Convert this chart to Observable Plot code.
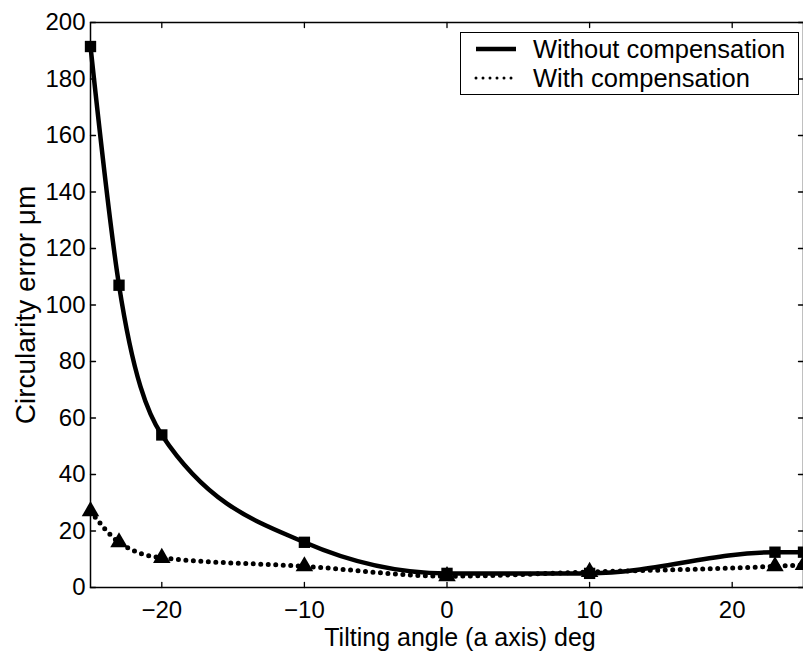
<!DOCTYPE html>
<html>
<head>
<meta charset="utf-8">
<script src="https://cdn.jsdelivr.net/npm/d3@7"></script>
<script src="https://cdn.jsdelivr.net/npm/@observablehq/plot@0.6"></script>
<style>
  html, body { margin: 0; padding: 0; background: #fff; }
  #wrap { position: relative; width: 803px; height: 653px; overflow: hidden; font-family: "Liberation Sans", Arial, Helvetica, sans-serif; }
  #legend { position: absolute; left: 460px; top: 32px; width: 337px; height: 61px; border: 1.5px solid #000; background: #fff; }
  .row { position: absolute; left: 0; height: 28px; display: flex; align-items: center; font-size: 25.5px; color: #000; white-space: nowrap; }
  .row svg { margin-left: 13px; margin-right: 15px; }
</style>
</head>
<body>
<div id="wrap"></div>
<script>
const angles = [-25, -23, -20, -10, 0, 10, 23, 25];
const withoutComp = [191.5, 107, 54, 16, 5, 5, 12.5, 12.5];
const withComp = [27, 16, 10.5, 7.5, 4, 5.5, 7.5, 8];
const seriesNames = ["Without compensation", "With compensation"];
const xTicks = [-20, -10, 0, 10, 20];
const yTicks = [0, 20, 40, 60, 80, 100, 120, 140, 160, 180, 200];
const xLabel = "Tilting angle (a axis) deg";
const yLabel = "Circularity error μm";

const rowsWithout = angles.map((a, i) => ({angle: a, value: withoutComp[i]}));
const rowsWith = angles.map((a, i) => ({angle: a, value: withComp[i]}));

// inward tick shape for vector marks
const tickShape = {draw(context, l) { context.moveTo(0, 0); context.lineTo(0, -l); }};
const tickOpts = {length: 5, anchor: "start", shape: tickShape, stroke: "#000", strokeWidth: 1.3};

const chart = Plot.plot({
  width: 803,
  height: 653,
  marginLeft: 90,
  marginRight: 0,
  marginTop: 22,
  marginBottom: 66,
  style: {fontFamily: "Liberation Sans, Arial, Helvetica, sans-serif", fontSize: "24px", color: "#000", background: "#fff", overflow: "visible"},
  x: {domain: [-25, 25]},
  y: {domain: [0, 200]},
  marks: [
    Plot.line(rowsWith, {x: "angle", y: "value", curve: "monotone-x", stroke: "#000", strokeWidth: 5, strokeDasharray: "0 7.5", strokeLinecap: "round"}),
    Plot.line(rowsWithout, {x: "angle", y: "value", curve: "monotone-x", stroke: "#000", strokeWidth: 4.5}),
    Plot.dot(rowsWith, {x: "angle", y: "value", symbol: "triangle", r: 6.5, fill: "#000"}),
    Plot.dot(rowsWithout, {x: "angle", y: "value", symbol: "square", r: 6.4, fill: "#000"}),
    Plot.frame({stroke: "#000", strokeWidth: 1.5}),
    Plot.vector(xTicks, {x: d => d, frameAnchor: "bottom", rotate: 0, ...tickOpts}),
    Plot.vector(xTicks, {x: d => d, frameAnchor: "top", rotate: 180, ...tickOpts}),
    Plot.vector(yTicks, {y: d => d, frameAnchor: "left", rotate: 90, ...tickOpts}),
    Plot.vector(yTicks, {y: d => d, frameAnchor: "right", rotate: -90, ...tickOpts}),
    Plot.axisX({anchor: "bottom", ticks: xTicks, tickSize: 0, tickPadding: 13, label: null, fontSize: 24}),
    Plot.axisY({anchor: "left", ticks: yTicks, tickSize: 0, tickPadding: 5, label: null, fontSize: 24}),
    Plot.text([xLabel], {frameAnchor: "bottom", dx: 13, dy: 50, lineAnchor: "middle", textAnchor: "middle", fontSize: 25, text: d => d}),
    Plot.text([yLabel], {frameAnchor: "left", dx: -64, rotate: -90, lineAnchor: "middle", textAnchor: "middle", fontSize: 28, text: d => d})
  ]
});

const wrap = document.getElementById("wrap");
wrap.appendChild(chart);

const legend = document.createElement("div");
legend.id = "legend";
const dashes = [null, "0 7"];
seriesNames.forEach((name, i) => {
  const row = document.createElement("div");
  row.className = "row";
  row.style.top = (i === 0 ? 2 : 31) + "px";
  const dash = dashes[i];
  row.innerHTML = `<svg width="44" height="10"><line x1="2" y1="5" x2="42" y2="5" stroke="#000" stroke-width="${dash ? 3 : 4.5}" ${dash ? 'stroke-dasharray="0 7" stroke-linecap="round"' : ''}/></svg><span>${name}</span>`;
  legend.appendChild(row);
});
wrap.appendChild(legend);
</script>
</body>
</html>
